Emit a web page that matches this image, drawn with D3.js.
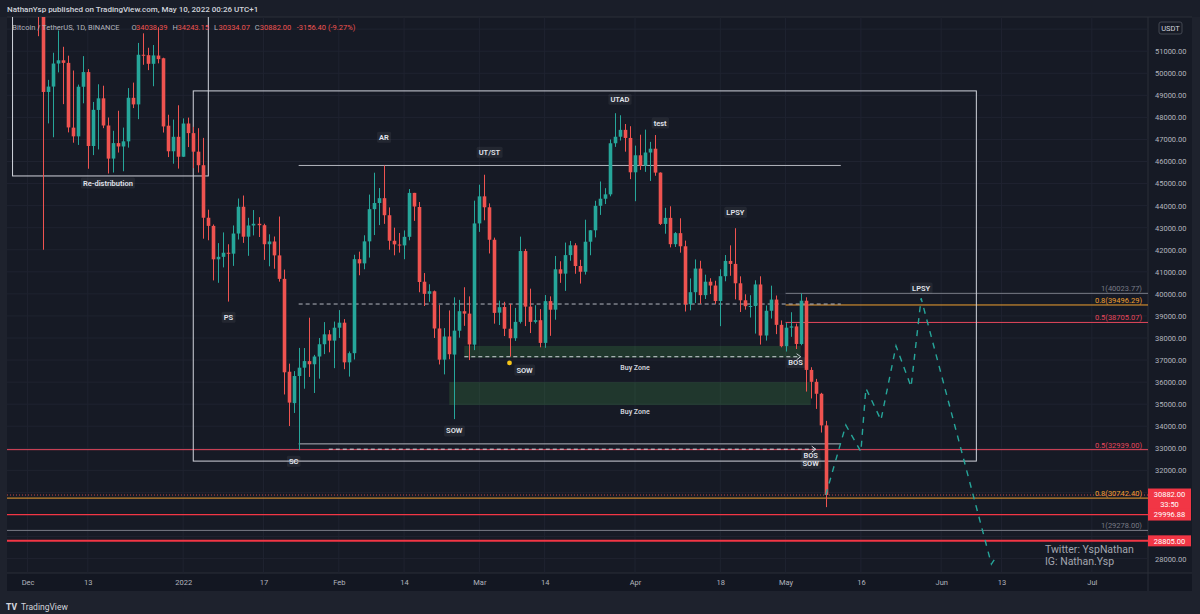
<!DOCTYPE html>
<html>
<head>
<meta charset="utf-8">
<script src="https://cdnjs.cloudflare.com/ajax/libs/d3/7.8.5/d3.min.js"></script>
<style>
  body { margin: 0; background: #1e222d; }
  svg { display: block; font-family: Roboto, "Noto Sans", sans-serif; }
</style>
</head>
<body>
<svg id="chart" width="1200" height="614"></svg>
<script>
// daily candles BTC/USDT, 2021-12-01 .. 2022-05-09
const candleStart = '2021-12-01';
const opens = [
  56950,57185,56485,53600,49152,49397,50441,50588,50471,47535,47140,49389,50053,46702,48337,48864,47632,46133,46834,46681,46914,48887,48588,50839,50819,50428,50802,50680,47623,46464,47120,
  46216,47722,47286,46446,45832,43451,43082,41566,41679,41864,41822,42735,43949,42592,43099,43177,43113,42250,42375,41744,40680,36471,35048,36276,36654,36951,36809,37161,37717,38166,37881,
  38466,38694,36896,37311,41572,41382,42380,43840,44118,44338,43565,42407,42236,42197,42586,44578,43938,40552,40001,40118,38432,37018,38068,37248,38329,39214,39105,37699,
  43194,44421,43925,42453,39148,39404,38420,37989,38730,41941,39423,38730,38807,37778,39672,39283,41114,40917,41757,42202,41262,41002,42364,42882,43991,44313,44511,46827,47123,47434,47068,
  45511,46283,45811,46407,46580,45497,43171,43445,42252,42753,42158,39530,40075,41147,39942,40552,40378,39678,40801,41493,41358,40480,39709,39441,39450,40427,38112,39235,39742,38596,
  37630,38469,38525,37728,39690,36552,36013,35472,34038
];
const highs = [
  59050,57400,57600,53850,49700,50929,51937,51200,50797,50125,49485,50777,50189,48700,49500,49436,47995,47392,48300,47537,49328,49576,51375,51810,51156,51280,52088,50704,48119,47900,48549,
  47954,47990,47570,47510,47070,43816,43145,42300,42786,42248,43100,44322,44458,43448,43800,43476,43179,42700,42600,43505,41100,36836,36499,37550,37545,38919,37234,38000,38720,38359,38744,
  39265,38855,37387,41772,41913,42656,44500,45492,44798,45821,43920,43000,42760,42876,44751,44578,44164,40945,40435,40150,39494,38450,39249,39843,39728,40300,39886,44225,
  44949,45400,44102,42549,39693,39640,39547,39362,42594,42039,40236,39486,39310,39947,39887,41718,41478,42325,42400,42296,41544,43361,42893,44220,45094,44792,46999,48189,48096,47700,47600,
  46720,47213,47444,46890,47200,45507,43900,43970,42800,43426,42414,40699,41561,41500,40870,40709,40595,41116,41760,42199,42976,40795,39980,39940,40616,40797,39474,40372,39925,38795,
  38675,39167,38651,40023,39845,36675,36146,35514,34243
];
const lows = [
  56460,55850,51680,42000,47727,47100,50039,48600,47320,46852,46751,48638,45672,46290,46547,47511,45456,45500,46406,45558,46630,48421,47920,50384,50142,49412,50450,47313,46201,45900,45678,
  46208,46654,45697,45500,42500,42430,40610,40501,41200,39650,41268,42464,42311,41725,42650,42577,41540,41250,41138,40553,35440,34008,34601,32917,35701,36234,35507,36156,37268,37351,36632,
  38000,36586,36250,37026,40843,41116,41645,42666,43117,43174,42000,41748,41870,41570,42427,43308,40073,39450,39639,38000,36800,36350,37036,34322,38014,38551,37000,37450,
  42809,43335,41832,38650,38588,38088,37155,37867,38657,38540,38224,38660,37578,37555,38098,38828,40500,40135,41499,40911,40467,40875,41751,42560,43579,44071,44422,46663,46950,46445,45200,
  44200,45620,45530,45118,45353,43121,42727,42107,42125,41868,39200,39254,39588,39551,39766,39991,39546,38536,40571,40820,39751,39177,39285,38929,38200,37702,37881,38881,38175,37578,
  37386,38053,37500,37671,35571,35258,34785,33714,30334
];
const closes = [
  57185,56480,53601,49152,49396,50441,50588,50471,47545,47140,49389,50053,46702,48343,48864,47632,46131,46834,46681,46914,48889,48588,50838,50821,50429,50809,50640,47589,46464,47120,46216,
  47722,47287,46446,45832,43451,43082,41566,41679,41864,41822,42735,43949,42591,43099,43177,43113,42250,42375,41744,40680,36445,35071,36276,36654,36954,36809,37160,37716,38166,37881,38466,
  38694,36896,37311,41574,41382,42380,43840,44118,44338,43565,42407,42244,42197,42586,44576,43961,40538,40000,40120,38431,37018,38067,37264,38333,39214,39105,37709,43193,
  44420,43925,42452,39137,39397,38420,37988,38731,41942,39422,38730,38807,37777,39671,39281,41114,40917,41757,42202,41262,41002,42364,42882,43991,44313,44511,46827,47122,47434,47068,45511,
  46283,45811,46407,46580,45497,43171,43445,42252,42753,42158,39530,40075,41147,39942,40552,40378,39678,40801,41493,41358,40480,39709,39441,39450,40427,38112,39235,39742,38596,37630,
  38468,38525,37729,39690,36552,36013,35472,34038,30882
];

const xTickDates = ['2021-12-01','2021-12-13','2022-01-01','2022-01-17','2022-02-01','2022-02-14','2022-03-01','2022-03-14','2022-04-01','2022-04-18','2022-05-01','2022-05-16','2022-06-01','2022-06-13','2022-07-01'];
const xTickLabels = ['Dec','13','2022','17','Feb','14','Mar','14','Apr','18','May','16','Jun','13','Jul'];
const priceTicks = d3.range(28000, 53000, 1000);

// drawings (date, price)
const boxes = [
  { d0: '2021-11-28', d1: '2022-01-06', p0: 53500, p1: 45345 },   // re-distribution
  { d0: '2022-01-03', d1: '2022-06-08', p0: 49200, p1: 32420 }    // trading range
];
const zoneDates = [['2022-02-26','2022-05-04'], ['2022-02-23','2022-05-06']];
const zonePrices = [[37640, 37100], [36000, 34960]];
const zoneLabels = ['Buy Zone', 'Buy Zone'];
const zoneLabelDates = ['2022-04-01', '2022-04-01'];
const zoneLabelPrices = [36680, 34650];

const rangeLineStart = '2022-01-24', rangeLineEnd = '2022-05-12';
const rangeTop = 45821, rangeMid = 39540, rangeLow = 33200;
const bosLines = [
  { d0: '2022-02-26', d1: '2022-05-04', p: 37150 },
  { d0: '2022-01-30', d1: '2022-05-07', p: 32960 }
];

const fibA = { start: '2022-05-01', levels: ['1', '0.8', '0.5'], prices: [40023.77, 39496.29, 38705.07] };
const fibB = { levels: ['0.5', '0.8', '1'], prices: [32939.00, 30742.40, 29278.00] };
const redLevels = [29996.88, 28805.00];
const lastPrice = 30882.00;
const countdown = '33:50';

const labelTexts  = ['AR','UT/ST','UTAD','test','LPSY','PS','SC','SOW','SOW','BOS','BOS','SOW','LPSY','Re-distribution'];
const labelDates  = ['2022-02-10','2022-03-03','2022-03-29','2022-04-06','2022-04-21','2022-01-10','2022-01-23','2022-02-24','2022-03-10','2022-05-03','2022-05-06','2022-05-06','2022-05-28','2021-12-17'];
const labelPrices = [47110, 46430, 48830, 47750, 43710, 38950, 32420, 33790, 36550, 36890, 32700, 32330, 40270, 45030];

const projDates  = ['2022-05-09','2022-05-13','2022-05-16','2022-05-17','2022-05-20','2022-05-23','2022-05-26','2022-05-28','2022-06-11','2022-06-12'];
const projPrices = [30882, 34050, 32850, 35720, 34280, 37640, 35790, 39800, 27750, 28090];

const dotDate = '2022-03-07', dotPrice = 36870;

// ---------------------------------------------------------------
const svg = d3.select('#chart');
const day = s => d3.utcParse('%Y-%m-%d')(s);
const plot = { left: 7, right: 1148, top: 17, bottom: 573 };

const x = d3.scaleUtc()
  .domain([day('2021-12-01'), day('2022-07-01')])
  .range([27.6, 1091.8]);
const y = d3.scaleLinear()
  .domain([28000, 51000])
  .range([558.6, 51.2]);

const candles = opens.map((o, i) => ({
  date: d3.utcDay.offset(day(candleStart), i),
  o, h: highs[i], l: lows[i], c: closes[i]
}));

// backgrounds
svg.append('rect').attr('width', 1200).attr('height', 614).attr('fill', '#1e222d');
svg.append('rect').attr('x', 0).attr('y', 0).attr('width', 1200).attr('height', 17).attr('fill', '#1a1e29');
svg.append('rect').attr('x', plot.left).attr('y', plot.top)
  .attr('width', 1192 - plot.left).attr('height', 591 - plot.top).attr('fill', '#161a25');
svg.append('rect').attr('x', plot.left).attr('y', plot.bottom)
  .attr('width', 1192 - plot.left).attr('height', 18).attr('fill', '#131722');
svg.append('line').attr('x1', plot.left).attr('x2', 1192).attr('y1', plot.bottom).attr('y2', plot.bottom)
  .attr('stroke', '#2a2e39');
svg.append('line').attr('x1', plot.right).attr('x2', plot.right).attr('y1', plot.top).attr('y2', 591)
  .attr('stroke', '#2a2e39');
svg.append('line').attr('x1', plot.left).attr('x2', 1192).attr('y1', plot.top).attr('y2', plot.top)
  .attr('stroke', '#2a2e39');

svg.append('clipPath').attr('id', 'clip').append('rect')
  .attr('x', plot.left).attr('y', plot.top)
  .attr('width', plot.right - plot.left).attr('height', plot.bottom - plot.top);

const g = svg.append('g').attr('clip-path', 'url(#clip)');

// grid
g.selectAll('.vgrid').data(xTickDates).enter().append('line')
  .attr('x1', d => x(day(d))).attr('x2', d => x(day(d)))
  .attr('y1', plot.top).attr('y2', plot.bottom)
  .attr('stroke', '#1f2330');
g.selectAll('.hgrid').data(priceTicks).enter().append('line')
  .attr('x1', plot.left).attr('x2', plot.right)
  .attr('y1', d => y(d)).attr('y2', d => y(d))
  .attr('stroke', '#1f2330');

// buy zones
zoneDates.forEach((zd, i) => {
  g.append('rect')
    .attr('x', x(day(zd[0]))).attr('width', x(day(zd[1])) - x(day(zd[0])))
    .attr('y', y(zonePrices[i][0])).attr('height', y(zonePrices[i][1]) - y(zonePrices[i][0]))
    .attr('fill', '#4caf50').attr('fill-opacity', 0.2);
  g.append('text')
    .attr('x', x(day(zoneLabelDates[i]))).attr('y', y(zoneLabelPrices[i]))
    .attr('text-anchor', 'middle').attr('dy', '0.35em')
    .attr('fill', '#d1d4dc').style('font-size', '7px').style('font-weight', 600)
    .text(zoneLabels[i]);
});

// fib levels, upper set
const fibColor = { '1': '#787b86', '0.8': '#f0a030', '0.5': '#e5475c' };
fibA.prices.forEach((p, i) => {
  g.append('line')
    .attr('x1', x(day(fibA.start))).attr('x2', plot.right)
    .attr('y1', y(p)).attr('y2', y(p))
    .attr('stroke', fibColor[fibA.levels[i]]).attr('stroke-width', 1);
  g.append('text')
    .attr('x', plot.right - 6).attr('y', y(p) - 2)
    .attr('text-anchor', 'end')
    .attr('fill', fibColor[fibA.levels[i]]).style('font-size', '7.5px')
    .text(`${fibA.levels[i]}(${p.toFixed(2)})`);
});
// fib levels, lower set (extends left)
fibB.prices.forEach((p, i) => {
  g.append('line')
    .attr('x1', plot.left).attr('x2', plot.right)
    .attr('y1', y(p)).attr('y2', y(p))
    .attr('stroke', fibColor[fibB.levels[i]]).attr('stroke-width', 1);
  g.append('text')
    .attr('x', plot.right - 6).attr('y', y(p) - 2)
    .attr('text-anchor', 'end')
    .attr('fill', fibColor[fibB.levels[i]]).style('font-size', '7.5px')
    .text(`${fibB.levels[i]}(${p.toFixed(2)})`);
});

// red horizontal levels
redLevels.forEach((p, i) => {
  g.append('line')
    .attr('x1', plot.left).attr('x2', plot.right)
    .attr('y1', y(p)).attr('y2', y(p))
    .attr('stroke', '#f23645').attr('stroke-width', i === 1 ? 2 : 1.3);
});
// current price dotted line
g.append('line')
  .attr('x1', plot.left).attr('x2', plot.right)
  .attr('y1', y(lastPrice)).attr('y2', y(lastPrice))
  .attr('stroke', '#ef5350').attr('stroke-dasharray', '1,2').attr('stroke-opacity', 0.8);

// boxes
boxes.forEach(b => {
  g.append('rect')
    .attr('x', x(day(b.d0))).attr('width', x(day(b.d1)) - x(day(b.d0)))
    .attr('y', y(b.p0)).attr('height', y(b.p1) - y(b.p0))
    .attr('fill', 'none').attr('stroke', '#d1d4dc').attr('stroke-width', 1);
});

// range lines
const rx0 = x(day(rangeLineStart)), rx1 = x(day(rangeLineEnd));
g.append('line').attr('x1', rx0).attr('x2', rx1).attr('y1', y(rangeTop)).attr('y2', y(rangeTop))
  .attr('stroke', '#b2b5be');
g.append('line').attr('x1', rx0).attr('x2', rx1).attr('y1', y(rangeMid)).attr('y2', y(rangeMid))
  .attr('stroke', '#b2b5be').attr('stroke-dasharray', '4,3');
g.append('line').attr('x1', rx0).attr('x2', rx1).attr('y1', y(rangeLow)).attr('y2', y(rangeLow))
  .attr('stroke', '#b2b5be');

// break of structure arrows
bosLines.forEach(b => {
  const bx0 = x(day(b.d0)), bx1 = x(day(b.d1)), by = y(b.p);
  g.append('line').attr('x1', bx0).attr('x2', bx1).attr('y1', by).attr('y2', by)
    .attr('stroke', '#d1d4dc').attr('stroke-dasharray', '4,3');
  g.append('path').attr('d', `M${bx1 - 4},${by - 3}L${bx1},${by}L${bx1 - 4},${by + 3}`)
    .attr('fill', 'none').attr('stroke', '#d1d4dc');
});

// candles
const bodyW = 3.6;
const cg = g.append('g');
cg.selectAll('.wick').data(candles).enter().append('line')
  .attr('x1', d => Math.round(x(d.date)) + 0.5).attr('x2', d => Math.round(x(d.date)) + 0.5)
  .attr('y1', d => y(d.h)).attr('y2', d => y(d.l))
  .attr('stroke', d => d.c >= d.o ? '#26a69a' : '#ef5350');
cg.selectAll('.body').data(candles).enter().append('rect')
  .attr('x', d => Math.round(x(d.date)) + 0.5 - bodyW / 2)
  .attr('width', bodyW)
  .attr('y', d => y(Math.max(d.o, d.c)))
  .attr('height', d => Math.max(1, Math.abs(y(d.o) - y(d.c))))
  .attr('fill', d => d.c >= d.o ? '#26a69a' : '#ef5350');

// yellow marker
g.append('circle').attr('cx', x(day(dotDate))).attr('cy', y(dotPrice)).attr('r', 2.4)
  .attr('fill', '#f5c518');

// projected path
const proj = projDates.map((d, i) => [x(day(d)), y(projPrices[i])]);
g.append('path').attr('d', d3.line()(proj))
  .attr('fill', 'none').attr('stroke', '#26a69a').attr('stroke-width', 1.4)
  .attr('stroke-dasharray', '6,6');

// wyckoff labels
labelTexts.forEach((t, i) => {
  const lx = x(day(labelDates[i])), ly = y(labelPrices[i]);
  const txt = g.append('text')
    .attr('x', lx).attr('y', ly).attr('dy', '0.35em')
    .attr('text-anchor', 'middle')
    .attr('fill', '#e0e3eb').style('font-size', '7.5px').style('font-weight', 600)
    .text(t);
  const bb = txt.node().getBBox();
  g.insert('rect', () => txt.node())
    .attr('x', bb.x - 2).attr('y', bb.y - 1).attr('width', bb.width + 4).attr('height', bb.height + 2)
    .attr('rx', 1.5).attr('fill', '#ffffff').attr('fill-opacity', 0.06);
});

// watermark text
svg.append('text').attr('x', 1045).attr('y', 553).attr('fill', '#a3a6af')
  .style('font-size', '10.5px').text('Twitter: YspNathan');
svg.append('text').attr('x', 1045).attr('y', 565).attr('fill', '#a3a6af')
  .style('font-size', '10.5px').text('IG: Nathan.Ysp');

// x axis
const xAxisG = svg.append('g').attr('transform', 'translate(0,582)')
  .call(d3.axisBottom(x).tickValues(xTickDates.map(day))
    .tickFormat((d, i) => xTickLabels[i]).tickSize(0).tickPadding(0));
xAxisG.select('.domain').remove();
xAxisG.selectAll('text').attr('dy', '0.35em').attr('fill', '#b2b5be')
  .style('font-size', '7.5px').style('font-family', 'Roboto, sans-serif');

// price axis tags (drawn first so covered tick labels can be skipped)
const tags = [
  { lines: [lastPrice.toFixed(2), countdown], top: y(lastPrice) - 6.5, h: 22 },
  { lines: [redLevels[0].toFixed(2)], top: y(redLevels[0]) - 6, h: 12 },
  { lines: [redLevels[1].toFixed(2)], top: y(redLevels[1]) - 5.5, h: 11 }
];
const unitBox = { top: 22, h: 12 };
const covered = p => tags.concat([unitBox]).some(t => y(p) > t.top - 4 && y(p) < t.top + t.h + 4);

// price axis
const yAxisG = svg.append('g').attr('transform', 'translate(1155,0)')
  .call(d3.axisRight(y).tickValues(priceTicks.filter(p => !covered(p)))
    .tickFormat(d3.format('.2f')).tickSize(0).tickPadding(0));
yAxisG.select('.domain').remove();
yAxisG.selectAll('text').attr('fill', '#b2b5be')
  .style('font-size', '7.5px').style('font-family', 'Roboto, sans-serif');

tags.forEach(t => {
  svg.append('rect').attr('x', plot.right).attr('y', t.top).attr('width', 43).attr('height', t.h)
    .attr('fill', '#f23645');
  t.lines.forEach((s, i) => {
    svg.append('text').attr('x', plot.right + 21.5).attr('y', t.top + 6 + i * 10).attr('dy', '0.35em')
      .attr('text-anchor', 'middle').attr('fill', '#ffffff').style('font-size', '7.5px').text(s);
  });
});

// USDT unit box
svg.append('rect').attr('x', 1159).attr('y', unitBox.top).attr('width', 23).attr('height', unitBox.h).attr('rx', 2)
  .attr('fill', '#161a25').attr('stroke', '#434651');
svg.append('text').attr('x', 1170.5).attr('y', 28).attr('dy', '0.35em').attr('text-anchor', 'middle')
  .attr('fill', '#d1d4dc').style('font-size', '7.5px').text('USDT');

// header
svg.append('text').attr('x', 7).attr('y', 12).attr('fill', '#d1d4dc')
  .style('font-size', '8px').style('font-weight', 500)
  .text('NathanYsp published on TradingView.com, May 10, 2022 00:26 UTC+1');

const legendParts = [
  ['Bitcoin / TetherUS, 1D, BINANCE', 12.3, '#b2b5be'],
  ['O', 131.5, '#b2b5be'], ['34038.39', 136, '#ef5350'],
  ['H', 172.5, '#b2b5be'], ['34243.15', 177.5, '#ef5350'],
  ['L', 214, '#b2b5be'], ['30334.07', 218.5, '#ef5350'],
  ['C', 254.8, '#b2b5be'], ['30882.00', 259.8, '#ef5350'],
  ['-3156.40 (-9.27%)', 296.7, '#ef5350']
];
const legend = svg.append('text').attr('y', 27).attr('dy', '0.35em').style('font-size', '7.5px');
legendParts.forEach(p => {
  legend.append('tspan').attr('x', p[1]).attr('fill', p[2]).text(p[0]);
});

// footer logo
svg.append('text').attr('x', 6).attr('y', 610).attr('fill', '#d1d4dc')
  .style('font-size', '8.5px').style('font-weight', 800).text('TV');
svg.append('text').attr('x', 21).attr('y', 610).attr('fill', '#d1d4dc')
  .style('font-size', '8.5px').text('TradingView');
</script>
</body>
</html>
